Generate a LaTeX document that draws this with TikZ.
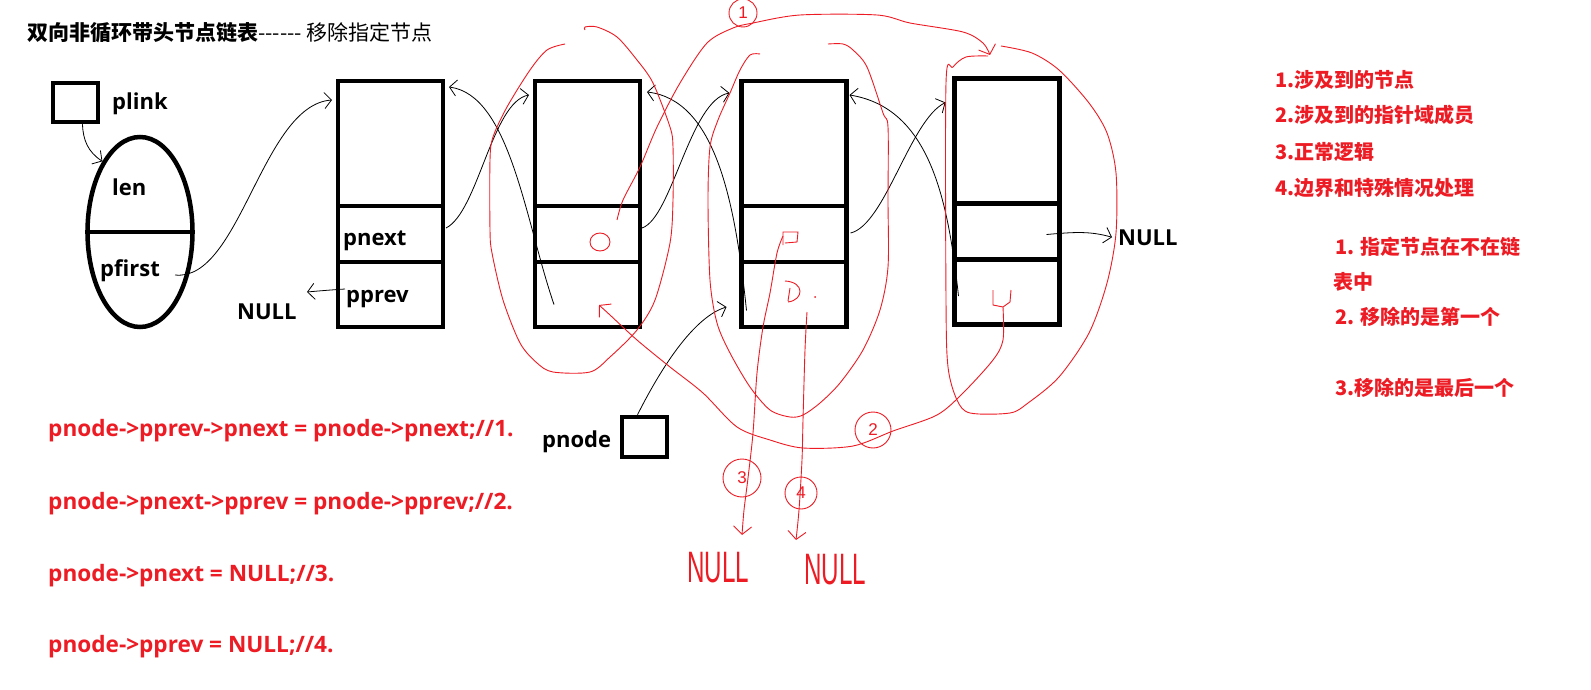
\documentclass[tikz,border=0pt]{standalone}
\usepackage{fontspec}
\setmainfont{Noto Sans CJK SC}
\newfontfamily\latinfont{Open Sans}
\newfontfamily\handfont{Liberation Sans}
\usetikzlibrary{positioning,shapes.geometric,arrows.meta}
\definecolor{penred}{RGB}{237,28,36}
\begin{document}
\begin{tikzpicture}[x=1pt,y=-1pt,
    cell/.style={draw,line width=4.5pt,minimum width=105pt,inner sep=0pt,outer sep=0pt},
    datacell/.style={cell,minimum height=125pt},
    nextcell/.style={cell,minimum height=56pt},
    prevcell/.style={cell,minimum height=65pt},
    lbl/.style={font=\latinfont\bfseries\fontsize{22}{26}\selectfont,inner sep=0pt,anchor=base west},
    code/.style={font=\latinfont\bfseries\fontsize{22.6}{27}\selectfont,text=penred,inner sep=0pt,anchor=base west},
    note/.style={font=\bfseries\fontsize{20}{24}\selectfont,text=penred,inner sep=0pt,anchor=west},
    ptr/.style={line width=0.8pt,-{Straight Barb[length=7pt,width=16pt]}},
    scribble/.style={draw=penred,line width=0.9pt},
    redarrow/.style={scribble,-{Straight Barb[length=8pt,width=18pt]}},
    numring/.style={circle,draw=penred,line width=0.9pt,inner sep=0pt,text=penred,font=\handfont\fontsize{17}{17}\selectfont},
    handnull/.style={text=penred,inner sep=0pt,font=\handfont\fontsize{44}{44}\selectfont}]
    \fill[white] (0,0) rectangle (1591,690);
    \useasboundingbox (0,0) rectangle (1591,690);
    \node[anchor=west,inner sep=0pt,font=\fontsize{21}{25}\selectfont] (title) at (27,33) {\textbf{双向非循环带头节点链表}-{}-{}-{}-{}-{}-\ 移除指定节点};

    \node[draw,line width=4.5pt,minimum width=45pt,minimum height=39pt,inner sep=0pt] (plinkbox) at (75.5,102.5) {};
    \node[lbl] (plink) at (112,110) {plink};
    \node[draw,ellipse,line width=4.5pt,minimum width=105pt,minimum height=190pt,inner sep=0pt] (head) at (140,232) {};
    \draw[line width=4.5pt] (head.west) -- (head.east);
    \node[lbl] (len) at (112,196) {len};
    \node[lbl] (pfirst) at (100,276) {pfirst};

    \node[datacell] (n1d) at (390.5,143.5) {};
    \node[nextcell,below=0pt of n1d] (n1n) {};
    \node[prevcell,below=0pt of n1n] (n1p) {};
    \node[datacell] (n2d) at (587.5,143.5) {};
    \node[nextcell,below=0pt of n2d] (n2n) {};
    \node[prevcell,below=0pt of n2n] (n2p) {};
    \node[datacell] (n3d) at (794,143.5) {};
    \node[nextcell,below=0pt of n3d] (n3n) {};
    \node[prevcell,below=0pt of n3n] (n3p) {};
    \node[datacell] (n4d) at (1007,141) {};
    \node[nextcell,below=0pt of n4d] (n4n) {};
    \node[prevcell,below=0pt of n4n] (n4p) {};
    \node[lbl] (t1next) at ([xshift=5pt,yshift=-11pt]n1n.west) {pnext};
    \node[lbl] (t1prev) at ([xshift=8pt,yshift=-8pt]n1p.west) {pprev};

    \node[lbl] (null1) at (237,319) {NULL};
    \node[lbl] (null2) at (1118,245) {NULL};
    \node[lbl] (pnode) at (542,447) {pnode};
    \node[draw,line width=4.5pt,minimum width=45pt,minimum height=40pt,inner sep=0pt] (pnodebox) at (644.5,437) {};
    \coordinate (null1tip) at (307,292);

    \draw[ptr] ([xshift=7pt]plinkbox.south) .. controls (83,140) and (88,152) .. (head.118);
    \draw[ptr] ([xshift=15pt,yshift=1pt]pfirst.base east) .. controls (240,282) and (262,105) .. ([xshift=-6pt,yshift=-19pt]n1d.north west);
    \draw[ptr] ([xshift=7pt,yshift=5.5pt]n1p.west) .. controls (330,290) and (318,291) .. (null1tip);
    \draw[ptr] ([xshift=3pt,yshift=6pt]n1n.east) .. controls (478,212) and (492,102) .. ([xshift=-6pt,yshift=-14pt]n2d.north west);
    \draw[ptr] ([xshift=19pt,yshift=-10pt]n2p.west) .. controls (525,220) and (510,95) .. ([xshift=6pt,yshift=-6pt]n1d.north east);
    \draw[ptr] ([xshift=2pt,yshift=6pt]n2n.east) .. controls (672,218) and (690,100) .. ([xshift=-12pt,yshift=-12pt]n3d.north west);
    \draw[ptr] ([xshift=5pt,yshift=-16pt]n3p.west) .. controls (735,200) and (715,100) .. ([xshift=7pt,yshift=-11pt]n2d.north east);
    \draw[ptr] ([xshift=4pt,yshift=1pt]n3n.east) .. controls (885,225) and (910,120) .. ([xshift=-9pt,yshift=-24pt]n4d.north west);
    \draw[ptr] ([xshift=4pt,yshift=-4pt]n4p.west) .. controls (948,200) and (930,108) .. ([xshift=3pt,yshift=-14pt]n3d.north east);
    \draw[ptr] ([xshift=-13pt,yshift=-3pt]n4n.east) .. controls (1075,232) and (1090,231) .. ([xshift=-6pt]null2.west);
    \draw[ptr] ([xshift=-7pt]pnodebox.north) .. controls (655,380) and (690,318) .. ([xshift=-15pt,yshift=-12.5pt]n3p.west);

    \draw[scribble] plot[smooth] coordinates {(565,44) (547,50) (530,70) (507,107) (493,137) (490,160) (490,230) (492,253) (503,300) (520,343) (537,363) (553,372) (590,372) (610,357) (637,330) (655,300) (670,243) (673,200) (673,147) (670,127) (653,83) (637,60) (617,37) (597,27) (585,27) (585,30)};
    \draw[scribble] plot[smooth] coordinates {(760,54) (750,55) (740,70) (730,93) (718,120) (710,147) (708,200) (710,280) (717,323) (730,353) (750,387) (770,410) (790,417) (803,415) (820,403) (840,383) (863,350) (880,310) (888,267) (888,200) (888,127) (883,113) (867,67) (853,50) (843,44) (828,44)};
    \draw[scribble] plot[smooth] coordinates {(1001,46) (1032,53) (1059,70) (1089,103) (1107,133) (1116,173) (1116,233) (1107,283) (1089,333) (1059,377) (1028,403) (1010,413) (970,413) (957,400) (948,367) (946,300) (946,83) (953,67) (966,57) (988,56)};

    \draw[scribble] (600,242) ellipse (10 and 9);
    \draw[scribble] (783,245) -- (783,232) -- (798,232) -- (797,242) -- (785,243);
    \draw[scribble] (790,288) -- (788,301) (785,281) .. controls (805,282) and (804,300) .. (788,302);
    \fill[penred] (815,297) circle (1);
    \draw[scribble] (993,290) -- (993,305) -- (1003,307) -- (1010,302) -- (1011,290);

    \node[numring,minimum size=28pt] (ring1) at (743,13) {1};
    \node[numring,minimum size=36pt] (ring2) at (873,430) {2};
    \node[numring,minimum size=38pt] (ring3) at (742,478) {3};
    \node[numring,minimum size=32pt] (ring4) at (801,493) {4};
    \node[handnull] (hnull3) at (718,568) {\scalebox{0.55}[1]{NULL}};
    \node[handnull] (hnull4) at (835,570) {\scalebox{0.55}[1]{NULL}};

    \draw[redarrow] plot[smooth] coordinates {(617,220) (623,200) (640,167) (657,127) (680,83) (707,43) (733,28) (753,23) (800,15) (877,15) (910,23) (963,32) (983,43) (990,55)};
    \draw[redarrow] plot[smooth] coordinates {(1003,307) (1003,340) (993,360) (963,393) (937,415) (893,431) (853,446) (803,448) (770,440) (737,427) (703,393) (670,367) (637,340) (610,315) (599,305)};
    \draw[redarrow] plot[smooth] coordinates {(783,236) (777,253) (770,293) (763,327) (757,373) (753,433) (748,478) (744,510) (742,535)};
    \draw[redarrow] plot[smooth] coordinates {(807,312) (805,350) (803,420) (802,460) (799,510) (796,540)};

    \node[code] (line1) at (48,436) {pnode->pprev->pnext = pnode->pnext;//1.};
    \node[code] (line2) at (48,509) {pnode->pnext->pprev = pnode->pprev;//2.};
    \node[code] (line3) at (48,581) {pnode->pnext = NULL;//3.};
    \node[code] (line4) at (48,652) {pnode->pprev = NULL;//4.};

    \node[note] (step1) at (1275,80) {1.涉及到的节点};
    \node[note] (step2) at (1275,115) {2.涉及到的指针域成员};
    \node[note] (step3) at (1275,152) {3.正常逻辑};
    \node[note] (step4) at (1275,188) {4.边界和特殊情况处理};
    \node[note] (case1) at (1335,247) {1. 指定节点在不在链};
    \node[note] (case1b) at (1333,282) {表中};
    \node[note] (case2) at (1335,317) {2. 移除的是第一个};
    \node[note] (case3) at (1335,388) {3.移除的是最后一个};
\end{tikzpicture}
\end{document}
